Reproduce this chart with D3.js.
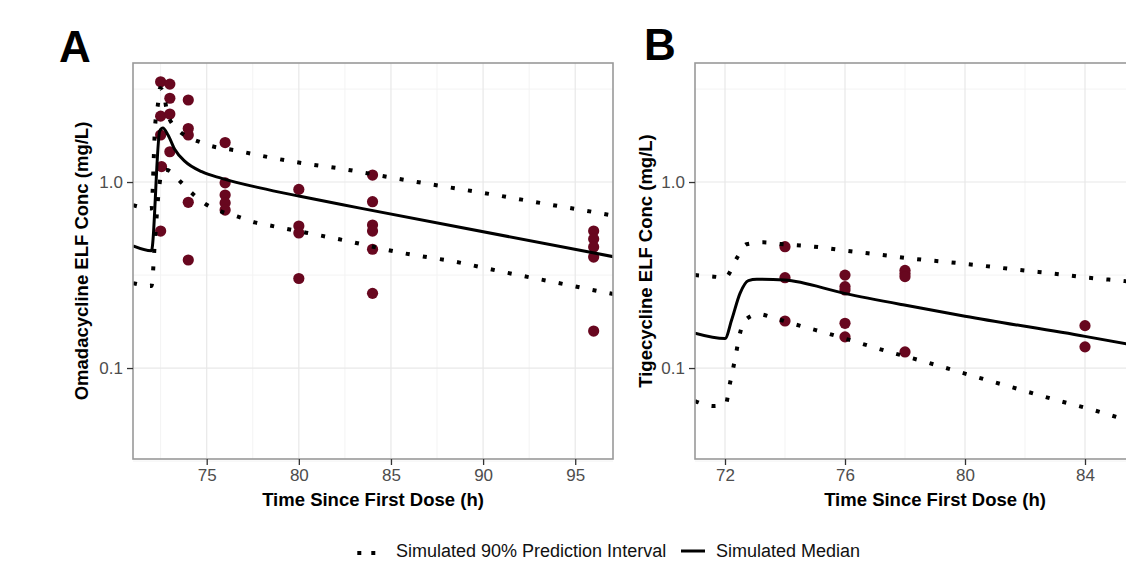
<!DOCTYPE html>
<html>
<head>
<meta charset="utf-8">
<script src="https://cdn.jsdelivr.net/npm/d3@7"></script>
<style>
  body { margin: 0; background: #fff; }
  svg  { display: block; font-family: "Liberation Sans", Arial, sans-serif; }
</style>
</head>
<body>
<svg id="chart" width="1126" height="561"></svg>
<script>
// ── Data: panel A (omadacycline) ─────────────────────────────────────────────
const aObsTime = [72.5, 72.5, 72.5, 72.55, 72.5, 73, 73, 73, 73, 74, 74, 74, 74, 74,
                  76, 76, 76, 76, 76, 80, 80, 80, 80, 84, 84, 84, 84, 84, 84,
                  96, 96, 96, 96, 96];
const aObsConc = [3.46, 2.26, 1.79, 1.21, 0.545, 3.36, 2.82, 2.32, 1.455,
                  2.76, 1.94, 1.79, 0.778, 0.381,
                  1.63, 0.99, 0.851, 0.771, 0.707,
                  0.913, 0.58, 0.532, 0.303,
                  1.09, 0.784, 0.587, 0.545, 0.435, 0.252,
                  0.545, 0.494, 0.447, 0.395, 0.158];

const aMedTime = [71, 72, 72.45, 72.62, 72.9, 73.28, 73.82, 74.73, 75.81, 77.89, 80.06, 83.32, 97.06];
const aMedConc = [0.453, 0.427, 1.88, 1.95, 1.79, 1.49, 1.29, 1.136, 1.047, 0.93, 0.838, 0.724, 0.397];

const aHiTime = [71, 72, 72.2, 72.35, 72.47, 72.68, 72.86, 73.28, 74.85, 76.71, 78.53, 80.39,
                 82.23, 84.94, 87.71, 90.46, 93.23, 95.98, 97.06];
const aHiConc = [0.75, 0.72, 2.0, 2.6, 3.2, 2.93, 2.36, 1.98, 1.61, 1.47, 1.35, 1.254,
                 1.182, 1.06, 0.952, 0.859, 0.768, 0.69, 0.66];

const aLoTime = [71, 72, 72.2, 72.4, 72.6, 72.83, 73.55, 74.18, 74.9, 75.8, 76.7, 77.6, 78.5,
                 80.4, 82.2, 85.7, 88.47, 91.18, 93.9, 96.61, 97.06];
const aLoConc = [0.286, 0.276, 0.5, 0.9, 1.15, 1.16, 1.01, 0.875, 0.765, 0.693, 0.651, 0.607, 0.582,
                 0.534, 0.492, 0.414, 0.373, 0.327, 0.289, 0.255, 0.25];

// ── Data: panel B (tigecycline) ──────────────────────────────────────────────
const bObsTime = [74, 74, 74, 76, 76, 76, 76, 76, 78, 78, 78, 78, 84, 84];
const bObsConc = [0.449, 0.306, 0.179, 0.316, 0.274, 0.263, 0.174, 0.147,
                  0.335, 0.322, 0.31, 0.122, 0.169, 0.130];

const bMedTime = [71, 72, 72.22, 72.5, 72.78, 73.06, 73.98, 75.98, 77.98, 80, 84, 87];
const bMedConc = [0.154, 0.144, 0.181, 0.252, 0.295, 0.30, 0.297, 0.252, 0.218, 0.19, 0.148, 0.121];

const bHiTime = [71, 71.63, 72, 72.39, 72.72, 73.28, 73.86, 74.98, 76.11, 77.24, 78.39, 79.52,
                 80.64, 81.78, 82.89, 84.02, 85.17, 87];
const bHiConc = [0.316, 0.31, 0.306, 0.389, 0.463, 0.474, 0.464, 0.449, 0.426, 0.405, 0.385, 0.37,
                 0.354, 0.337, 0.323, 0.307, 0.295, 0.275];

const bLoTime = [71, 71.61, 72.03, 72.14, 72.26, 72.37, 72.48, 72.67, 73.11, 73.67, 74.22, 74.78,
                 75.33, 76.44, 77.56, 78.67, 79.74, 80.86, 81.97, 83.08, 84.19, 85.3, 87];
const bLoConc = [0.0665, 0.0625, 0.064, 0.079, 0.0975, 0.12, 0.149, 0.181, 0.195, 0.185, 0.174, 0.164,
                 0.155, 0.137, 0.121, 0.108, 0.096, 0.085, 0.0755, 0.067, 0.06, 0.053, 0.0437];

// ── Axis ticks ───────────────────────────────────────────────────────────────
const yTicks      = [0.1, 1.0];
const yTickLabels = ['0.1', '1.0'];
const yMinor      = [0.0316, 0.316, 3.16];
const aXTicks = [75, 80, 85, 90, 95];
const aXMinor = [72.5, 77.5, 82.5, 87.5, 92.5];
const bXTicks = [72, 76, 80, 84];
const bXMinor = [74, 78, 82, 86];

const legendLabels = ['Simulated 90% Prediction Interval', 'Simulated Median'];

// ── Layout ───────────────────────────────────────────────────────────────────
const TOP = 63, BOTTOM = 459;
const DOT_COLOR = '#68071f';
const DOTTED = '4 13.3';

const svg = d3.select('#chart');
svg.append('rect').attr('width', 1126).attr('height', 561).attr('fill', '#fff');

const y = d3.scaleLog().domain([0.03243, 4.364]).range([BOTTOM, TOP]);

function zip(t, v) { return t.map((d, i) => [d, v[i]]); }

function drawPanel(o) {
  const x = d3.scaleLinear().domain(o.xDomain).range([o.left, o.right]);
  const g = svg.append('g');
  const clipId = 'clip-' + o.id;

  svg.append('clipPath').attr('id', clipId)
    .append('rect')
    .attr('x', o.left).attr('y', TOP)
    .attr('width', o.right - o.left).attr('height', BOTTOM - TOP);

  // grid — minor first, then major
  const grid = g.append('g');
  grid.selectAll('line.vmin').data(o.xMinor).enter().append('line')
    .attr('x1', d => x(d)).attr('x2', d => x(d)).attr('y1', TOP).attr('y2', BOTTOM)
    .attr('stroke', '#f3f3f3').attr('stroke-width', 1);
  grid.selectAll('line.hmin').data(yMinor).enter().append('line')
    .attr('x1', o.left).attr('x2', o.right).attr('y1', d => y(d)).attr('y2', d => y(d))
    .attr('stroke', '#f3f3f3').attr('stroke-width', 1);
  grid.selectAll('line.vmaj').data(o.xTicks).enter().append('line')
    .attr('x1', d => x(d)).attr('x2', d => x(d)).attr('y1', TOP).attr('y2', BOTTOM)
    .attr('stroke', '#e8e8e8').attr('stroke-width', 1.2);
  grid.selectAll('line.hmaj').data(yTicks).enter().append('line')
    .attr('x1', o.left).attr('x2', o.right).attr('y1', d => y(d)).attr('y2', d => y(d))
    .attr('stroke', '#e8e8e8').attr('stroke-width', 1.2);

  const plot = g.append('g').attr('clip-path', `url(#${clipId})`);
  const line = d3.line().x(d => x(d[0])).y(d => y(d[1])).curve(d3.curveMonotoneX);

  // observations
  plot.selectAll('circle.obs').data(zip(o.obsT, o.obsC)).enter().append('circle')
    .attr('cx', d => x(d[0])).attr('cy', d => y(d[1])).attr('r', 5.6)
    .attr('fill', DOT_COLOR);

  // prediction interval (dotted) and median (solid)
  [zip(o.hiT, o.hiC), zip(o.loT, o.loC)].forEach(pts => {
    plot.append('path').datum(pts).attr('d', line)
      .attr('fill', 'none').attr('stroke', '#000').attr('stroke-width', 4)
      .attr('stroke-dasharray', DOTTED);
  });
  plot.append('path').datum(zip(o.medT, o.medC)).attr('d', line)
    .attr('fill', 'none').attr('stroke', '#000').attr('stroke-width', 3)
    .attr('stroke-linejoin', 'round');

  // border
  g.append('rect')
    .attr('x', o.left).attr('y', TOP)
    .attr('width', o.right - o.left).attr('height', BOTTOM - TOP)
    .attr('fill', 'none').attr('stroke', '#999').attr('stroke-width', 1.6);

  // axes
  const xAxis = g.append('g').attr('transform', `translate(0,${BOTTOM})`)
    .call(d3.axisBottom(x).tickValues(o.xTicks).tickSize(6).tickPadding(4).tickFormat(d3.format('d')));
  const yAxis = g.append('g').attr('transform', `translate(${o.left},0)`)
    .call(d3.axisLeft(y).tickValues(yTicks).tickSize(6).tickPadding(4)
      .tickFormat((d, i) => yTickLabels[i]));
  [xAxis, yAxis].forEach(ax => {
    ax.select('.domain').remove();
    ax.selectAll('.tick line').attr('stroke', '#333').attr('stroke-width', 1.3);
    ax.selectAll('.tick text').attr('fill', '#4d4d4d')
      .style('font-size', '17px').style('font-family', '"Liberation Sans", Arial, sans-serif');
  });

  // titles
  svg.append('text')
    .attr('x', (o.left + o.right) / 2).attr('y', 506)
    .attr('text-anchor', 'middle').attr('font-weight', 'bold').attr('font-size', 18.5)
    .text('Time Since First Dose (h)');
  svg.append('text')
    .attr('transform', `translate(${o.yTitleX},${(TOP + BOTTOM) / 2}) rotate(-90)`)
    .attr('text-anchor', 'middle').attr('font-weight', 'bold').attr('font-size', 18.5)
    .text(o.yTitle);
  svg.append('text')
    .attr('x', o.letterX).attr('y', o.letterY)
    .attr('font-weight', 'bold').attr('font-size', 44)
    .text(o.letter);
}

drawPanel({
  id: 'a', left: 133, right: 613, xDomain: [71, 97.05],
  xTicks: aXTicks, xMinor: aXMinor,
  obsT: aObsTime, obsC: aObsConc,
  medT: aMedTime, medC: aMedConc,
  hiT: aHiTime, hiC: aHiConc, loT: aLoTime, loC: aLoConc,
  yTitle: 'Omadacycline ELF Conc (mg/L)', yTitleX: 88,
  letter: 'A', letterX: 59, letterY: 62
});

drawPanel({
  id: 'b', left: 695, right: 1175, xDomain: [71, 87],
  xTicks: bXTicks, xMinor: bXMinor,
  obsT: bObsTime, obsC: bObsConc,
  medT: bMedTime, medC: bMedConc,
  hiT: bHiTime, hiC: bHiConc, loT: bLoTime, loC: bLoConc,
  yTitle: 'Tigecycline ELF Conc (mg/L)', yTitleX: 652,
  letter: 'B', letterX: 644, letterY: 60
});

// ── Legend ───────────────────────────────────────────────────────────────────
const leg = svg.append('g');
leg.append('line')
  .attr('x1', 357.3).attr('x2', 377).attr('y1', 553).attr('y2', 553)
  .attr('stroke', '#000').attr('stroke-width', 4).attr('stroke-dasharray', '4 10');
leg.append('text').attr('x', 396).attr('y', 557).attr('font-size', 18)
  .attr('fill', '#111').text(legendLabels[0]);
leg.append('line')
  .attr('x1', 681).attr('x2', 705).attr('y1', 551).attr('y2', 551)
  .attr('stroke', '#000').attr('stroke-width', 3);
leg.append('text').attr('x', 716).attr('y', 557).attr('font-size', 18)
  .attr('fill', '#111').text(legendLabels[1]);
</script>
</body>
</html>
